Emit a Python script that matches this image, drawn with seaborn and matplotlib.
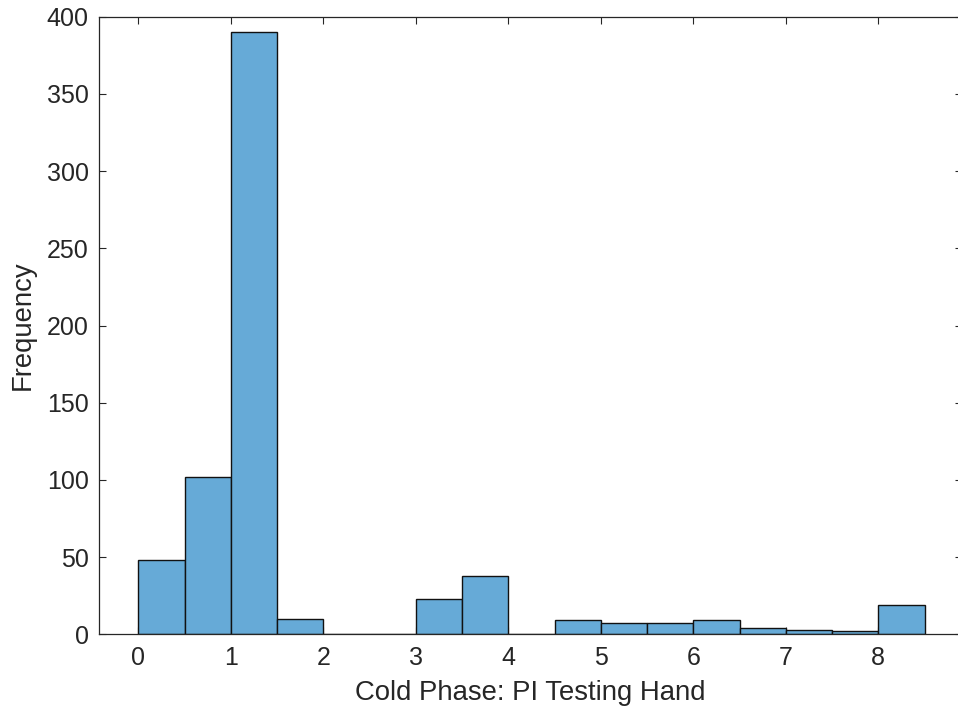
import numpy as np
import pandas as pd
import matplotlib
matplotlib.use("Agg")
import matplotlib.pyplot as plt
import seaborn as sns

# Histogram bins (width 0.5) and counts per bin
bin_edges = [0.0, 0.5, 1.0, 1.5, 2.0, 2.5, 3.0, 3.5, 4.0, 4.5, 5.0, 5.5, 6.0, 6.5, 7.0, 7.5, 8.0, 8.5]
counts = [48, 102, 390, 10, 0, 0, 23, 38, 0, 9, 7, 7, 9, 4, 3, 2, 19]
x_ticks = [0, 1, 2, 3, 4, 5, 6, 7, 8]
y_ticks = [0, 50, 100, 150, 200, 250, 300, 350, 400]

centers = [(a + b) / 2 for a, b in zip(bin_edges[:-1], bin_edges[1:])]
df = pd.DataFrame({"pi": centers, "n": counts})

sns.set_style("white")
plt.rcParams["font.family"] = ["Liberation Sans", "DejaVu Sans"]

W, H = 958, 709
fig = plt.figure(figsize=(W / 100, H / 100), dpi=100)
# the box runs slightly past the right edge of the canvas
ax = fig.add_axes([99 / W, 1 - 634.3 / H, (962 - 99) / W, (634.3 - 16.7) / H])

sns.histplot(data=df, x="pi", weights="n", bins=bin_edges, ax=ax,
             color="#66AAD7", alpha=1.0, edgecolor="#111111", linewidth=1.0)

axis_col = "#262626"
ax.set_xlim(-0.425, 8.905)
ax.set_ylim(0, 400)
ax.set_xticks(x_ticks)
ax.set_yticks(y_ticks)
ax.tick_params(direction="in", length=5, width=0.8, color=axis_col,
               labelsize=18, labelcolor=axis_col, top=True, right=True,
               bottom=True, left=True)
ax.tick_params(axis="x", pad=8.5)
ax.tick_params(axis="y", pad=7.5)
for s in ax.spines.values():
    s.set_visible(True)
    s.set_color(axis_col)
    s.set_linewidth(0.9)

ax.set_xlabel("Cold Phase: PI Testing Hand", fontsize=19.8, color=axis_col, labelpad=7)
ax.set_ylabel("Frequency", fontsize=19.8, color=axis_col, labelpad=7.5)

fig.savefig("out.png", dpi=100)
